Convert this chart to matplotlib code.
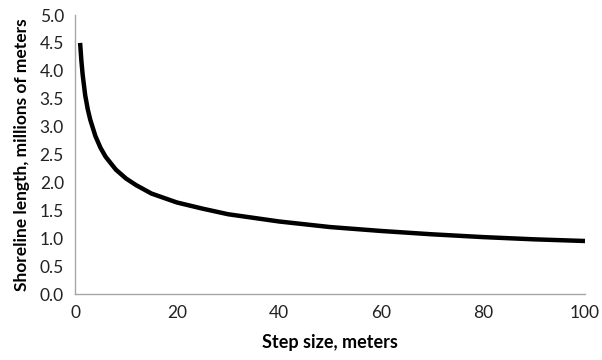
import matplotlib.pyplot as plt

plt.rcParams['font.family'] = ['Lato', 'DejaVu Sans']

# step size (m) and shoreline length (millions of m)
step_size = [1, 1.25, 1.5, 2, 2.5, 3, 4, 5, 6, 8, 10, 12, 15, 20, 25, 30,
             40, 50, 60, 70, 80, 90, 100]
shore_length = [4.50, 4.18, 3.93, 3.56, 3.31, 3.12, 2.83, 2.62, 2.46, 2.23,
                2.07, 1.95, 1.80, 1.64, 1.53, 1.43, 1.30, 1.20, 1.13, 1.07,
                1.02, 0.98, 0.95]

x_ticks = [0, 20, 40, 60, 80, 100]
y_ticks = [0.0, 0.5, 1.0, 1.5, 2.0, 2.5, 3.0, 3.5, 4.0, 4.5, 5.0]

fig = plt.figure(figsize=(6.02, 3.6), dpi=100)
ax = fig.add_axes([0.1246, 0.1833, 0.8472, 0.775])

ax.plot(step_size, shore_length, color='black', linewidth=3.2,
        solid_capstyle='butt')

ax.set_xlim(0, 100)
ax.set_ylim(0, 5)
ax.set_xticks(x_ticks)
ax.set_yticks(y_ticks)
ax.set_yticklabels(['%.1f' % v for v in y_ticks])
ax.tick_params(length=0, labelsize=12.5, colors='#222222', pad=8)

for side in ['top', 'right']:
    ax.spines[side].set_visible(False)
for side in ['left', 'bottom']:
    ax.spines[side].set_color('#a6a6a6')
    ax.spines[side].set_linewidth(1)

ax.set_xlabel('Step size, meters', fontsize=13, fontweight='bold',
              labelpad=9)
ax.set_ylabel('Shoreline length, millions of meters', fontsize=12.5,
              fontweight='bold', labelpad=7)

fig.savefig('out.png', dpi=100)
